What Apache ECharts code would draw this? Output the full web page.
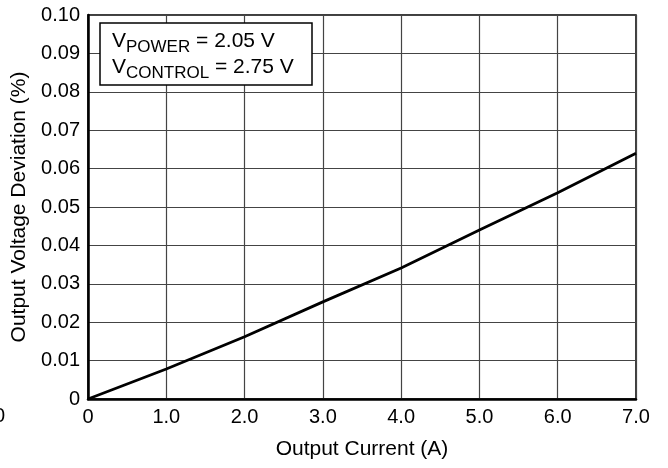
<!DOCTYPE html>
<html>
<head>
<meta charset="utf-8">
<script src="https://cdn.jsdelivr.net/npm/echarts@6/dist/echarts.min.js"></script>
<style>html,body{margin:0;padding:0;background:#fff;}#c{width:668px;height:468px;}</style>
</head>
<body>
<div id="c"></div>
<script>
var currentA = [0, 1.0, 2.0, 3.0, 4.0, 5.0, 6.0, 7.0];
var deviationPct = [0, 0.0078, 0.0162, 0.0253, 0.0341, 0.0440, 0.0537, 0.0640];
var xTickLabels = {0: '0', 1: '1.0', 2: '2.0', 3: '3.0', 4: '4.0', 5: '5.0', 6: '6.0', 7: '7.0'};
var vPower = '2.05 V';
var vControl = '2.75 V';

var FONT = 'Liberation Sans, Arial, sans-serif';
var chart = echarts.init(document.getElementById('c'), null, {renderer: 'canvas'});
var data = currentA.map(function (x, i) { return [x, deviationPct[i]]; });

chart.setOption({
  animation: false,
  backgroundColor: '#fff',
  grid: {left: 88, right: 32, top: 15, bottom: 69, show: true, borderColor: '#000', borderWidth: 1.5},
  xAxis: {
    type: 'value', min: 0, max: 7, interval: 1,
    name: 'Output Current (A)', nameLocation: 'middle', nameGap: 40,
    nameTextStyle: {fontFamily: FONT, fontSize: 21, color: '#000'},
    axisLine: {show: true, onZero: false, lineStyle: {color: '#000', width: 2.5}},
    axisTick: {show: false},
    axisLabel: {fontFamily: FONT, fontSize: 20, color: '#000', margin: 8,
      formatter: function (v) { return xTickLabels[v] !== undefined ? xTickLabels[v] : ''; }},
    splitLine: {show: true, lineStyle: {color: '#444', width: 1.2}}
  },
  yAxis: {
    type: 'value', min: 0, max: 0.1, interval: 0.01,
    name: 'Output Voltage Deviation (%)', nameLocation: 'middle', nameGap: 54,
    nameTextStyle: {fontFamily: FONT, fontSize: 21, color: '#000'},
    axisLine: {show: true, lineStyle: {color: '#000', width: 2.5}},
    axisTick: {show: false},
    axisLabel: {fontFamily: FONT, fontSize: 20, color: '#000', margin: 8,
      formatter: function (v) { return v === 0 ? '0' : v.toFixed(2); }},
    splitLine: {show: true, lineStyle: {color: '#444', width: 1.2}}
  },
  series: [{
    type: 'line', data: data, showSymbol: false, smooth: false,
    lineStyle: {color: '#000', width: 2.8}
  }],
  graphic: [
    {type: 'rect', shape: {x: 100, y: 23, width: 212, height: 62},
     style: {fill: '#fff', stroke: '#000', lineWidth: 1.5}, z: 100},
    {type: 'text', x: 112, y: 26, z: 101,
     style: {
       text: '{v|V}{s|POWER}{v| = ' + vPower + '}\n{v|V}{s|CONTROL}{v| = ' + vControl + '}',
       fill: '#000', fontFamily: FONT,
       rich: {
         v: {fontSize: 21, fontFamily: FONT, fill: '#000', lineHeight: 26, verticalAlign: 'bottom'},
         s: {fontSize: 17, fontFamily: FONT, fill: '#000', lineHeight: 26, verticalAlign: 'bottom', padding: [0, 0, -4, 0]}
       }
     }},
    {type: 'text', x: -6, y: 406, style: {text: '0', fontSize: 20, fontFamily: FONT, fill: '#000'}}
  ]
});
</script>
</body>
</html>
